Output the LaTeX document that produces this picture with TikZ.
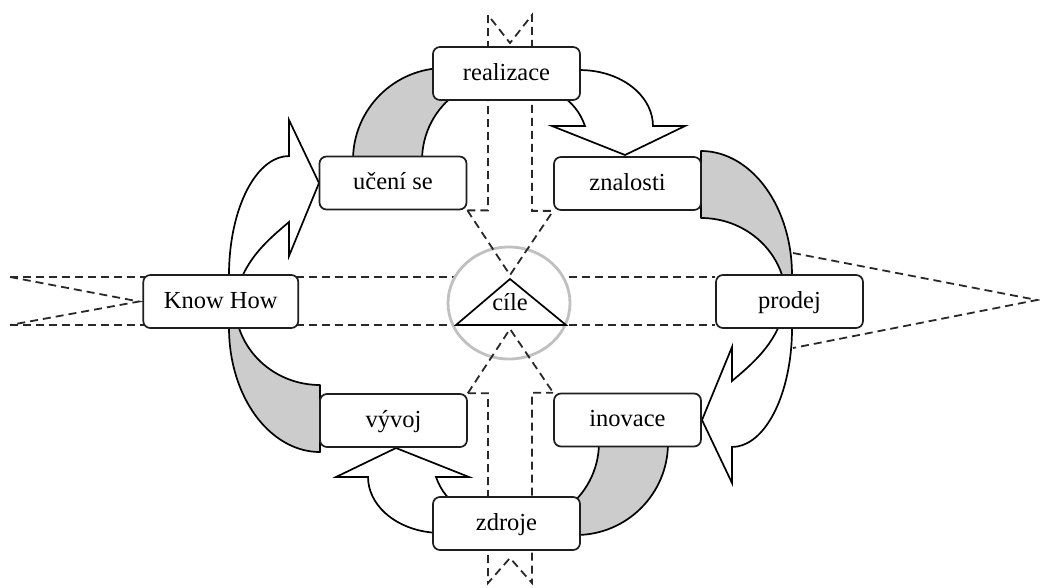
\documentclass[tikz,border=0pt]{standalone}
\usepackage{fontspec}
\setmainfont{Liberation Serif}
\usetikzlibrary{shapes.geometric}
\definecolor{bandgray}{RGB}{204,204,204}
\definecolor{ringgray}{RGB}{192,192,192}
\definecolor{guidecol}{RGB}{40,40,40}
\definecolor{framecol}{RGB}{30,30,30}
\pgfdeclarelayer{back}
\pgfdeclarelayer{mid}
\pgfsetlayers{back,mid,main}
% one half of the cycle: two grey bands and two white arrows;
% the other half is the same drawing turned by 180 degrees
\newcommand{\cyclehalf}{%
  % band between "učení se" and "realizace"
  \path[band] (353,160) arc[start angle=180,end angle=90,radius=92pt]
    -- (457,93) arc[start angle=125,end angle=180,radius=82pt] -- cycle;
  % arrow from "realizace" down to "znalosti"
  \path[flow] (567.3,70.9) arc[start angle=100,end angle=0,x radius=73pt,y radius=56pt]
    -- (685,126) -- (625,155) -- (552,126) -- (585,126)
    .. controls (580,112) and (572,102) .. (559,94) -- cycle;
  % band between "znalosti" and "prodej"
  \path[band] (701,151) arc[start angle=90,end angle=-8,x radius=91pt,y radius=124pt]
    -- (785.4,290) arc[start angle=7,end angle=90,x radius=85pt,y radius=82pt] -- cycle;
  % arrow from "prodej" down to "inovace"
  \path[flow] (791.1,307.3) arc[start angle=10,end angle=-90,x radius=60pt,y radius=119pt]
    -- (732,483) -- (702,420) -- (732,347) -- (732,381)
    .. controls (752,364) and (775,345) .. (784,312) -- cycle;
}
\begin{document}
\begin{tikzpicture}[x=1pt,y=-1pt,
  stage/.style={draw=framecol, fill=white, rounded corners=7pt, line width=1.7pt,
    minimum width=147pt, minimum height=53pt, inner sep=0pt,
    text height=18pt, text depth=5pt,
    font=\fontsize{24.5}{28}\selectfont},
  guide/.style={draw=guidecol, dash pattern=on 8pt off 5pt, line width=1.8pt},
  band/.style={fill=bandgray, draw=black, line width=1.7pt, line join=round},
  flow/.style={fill=white, draw=black, line width=1.7pt, line join=miter, miter limit=20},
]
\useasboundingbox (0,0) rectangle (1040,587);

% stages of the cycle
\node[stage] (real)  at (506.5,73.5)  {realizace};
\node[stage] (learn) at (393,183)     {učení se};
\node[stage] (know)  at (627.5,183.5) {znalosti};
\node[stage, minimum width=155pt] (kh) at (220.8,301.5) {Know How};
\node[stage] (sale)  at (789.5,301.5) {prodej};
\node[stage] (dev)   at (393.5,420.5) {vývoj};
\node[stage] (inno)  at (627.5,420)   {inovace};
\node[stage] (res)   at (506.5,523.5) {zdroje};

% free ends of the dashed guides
\coordinate (farL1) at (10,277);
\coordinate (farL2) at (10,325);
\coordinate (tipL)  at (139,301.5);
\coordinate (sideR1) at (793,253);
\coordinate (sideR2) at (793,348);
\coordinate (farR)  at (1037,300);
\coordinate (topL) at (488,15);
\coordinate (topV) at (510,43);
\coordinate (topR) at (532,15);
\coordinate (botL) at (488,583);
\coordinate (botV) at (510,558);
\coordinate (botR) at (532,583);
\coordinate (apexUp) at (510,275);
\coordinate (apexDn) at (510,329);
\coordinate (triL) at (456,325);
\coordinate (triTop) at (510,279);
\coordinate (triR) at (566,325);

\begin{pgfonlayer}{back}
  % horizontal band through the middle
  \draw[guide] (farL1) -- (farL1 -| sale.west);
  \draw[guide] (farL2) -- (farL2 -| sale.west);
  \draw[guide] (farL1) -- (tipL) -- (farL2);
  \draw[guide] (sideR1) -- (farR) -- (sideR2);
  % vertical band, upper and lower part
  \draw[guide] (learn.south east) -- (topL |- learn.south east) -- (topL) -- (topV)
    -- (topR) -- (topR |- know.south west) -- (know.south west);
  \draw[guide] (dev.north east) -- (botL |- dev.north east) -- (botL) -- (botV)
    -- (botR) -- (botR |- inno.north west) -- (inno.north west);
\end{pgfonlayer}

\begin{pgfonlayer}{mid}
  \cyclehalf
  \begin{scope}[rotate around={180:(510.5,301.5)}]
    \cyclehalf
  \end{scope}
  % ring round the goal
  \node[ellipse, draw=ringgray, fill=white, line width=2.8pt, inner sep=0pt,
    minimum width=122pt, minimum height=112pt] (ring) at (509,303) {};
\end{pgfonlayer}

% converging guides and the goal triangle
\draw[guide] (learn.south east) -- (apexUp) -- (know.south west);
\draw[guide] (dev.north east) -- (apexDn) -- (inno.north west);
\draw[line width=1.7pt, line join=miter] (triL) -- (triTop) -- (triR) -- cycle;
\node[inner sep=0pt, text height=18pt, text depth=5pt,
  font=\fontsize{24.5}{28}\selectfont] (goal) at (510,304) {cíle};
\end{tikzpicture}
\end{document}
